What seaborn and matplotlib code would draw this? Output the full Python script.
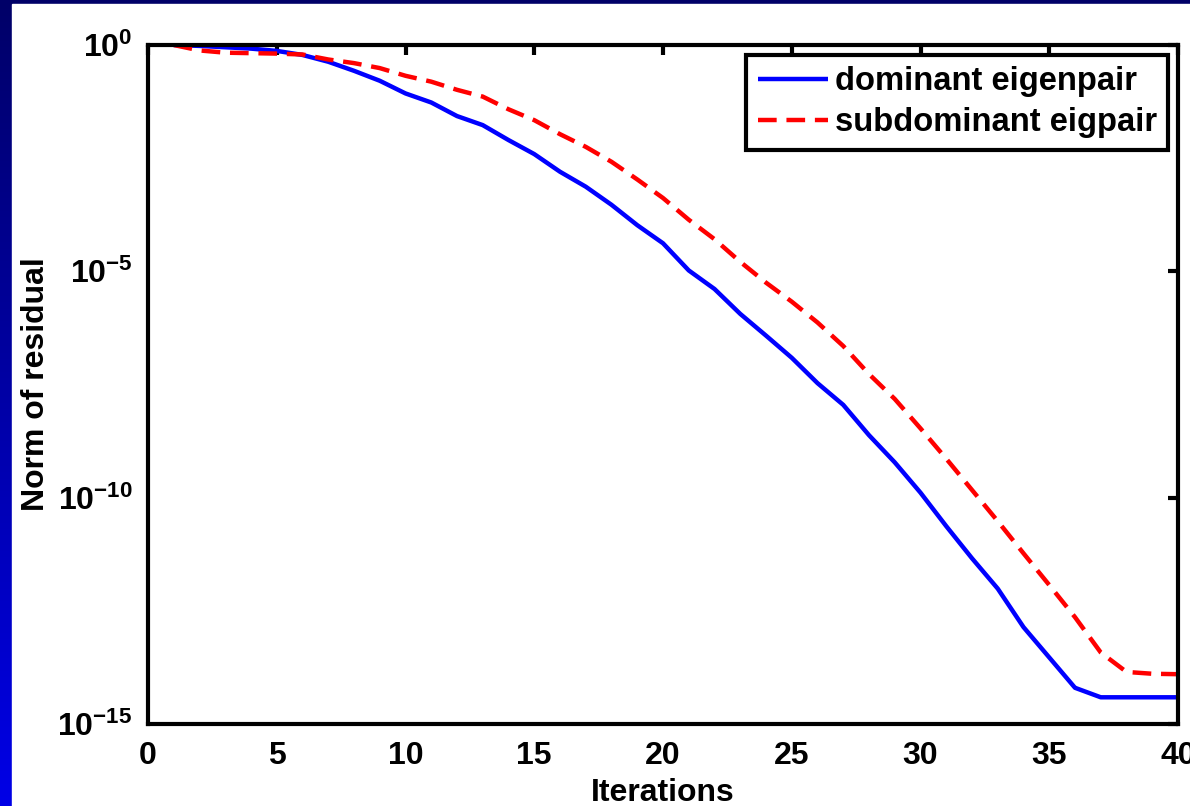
"""
Residual norm per iteration (log scale), dominant vs subdominant eigenpair
"""

import matplotlib
matplotlib.use("Agg")
import matplotlib.pyplot as plt
import numpy as np
import pandas as pd
import seaborn as sns

# values, as log10 of the residual norm
iterations = list(range(1, 41))
dominant_log10 = [0.0, -0.02, -0.05, -0.08, -0.13, -0.22, -0.37, -0.57, -0.79, -1.07,
                  -1.27, -1.57, -1.77, -2.10, -2.41, -2.80, -3.13, -3.53, -3.98, -4.38,
                  -4.98, -5.39, -5.94, -6.42, -6.91, -7.47, -7.95, -8.62, -9.22, -9.89,
                  -10.63, -11.34, -12.01, -12.86, -13.53, -14.20, -14.41, -14.41, -14.41, -14.41]
subdominant_log10 = [0.0, -0.12, -0.17, -0.18, -0.19, -0.21, -0.32, -0.40, -0.51, -0.68,
                     -0.81, -0.99, -1.14, -1.42, -1.66, -1.97, -2.25, -2.58, -2.97, -3.38,
                     -3.86, -4.29, -4.79, -5.25, -5.67, -6.13, -6.65, -7.27, -7.82, -8.47,
                     -9.14, -9.83, -10.52, -11.23, -11.93, -12.64, -13.42, -13.85, -13.89, -13.90]
series_names = ["dominant eigenpair", "subdominant eigpair"]
xticks = [0, 5, 10, 15, 20, 25, 30, 35, 40]
yticks = [1e0, 1e-5, 1e-10, 1e-15]
ytick_labels = [r"$\mathbf{10^{0}}$", r"$\mathbf{10^{-5}}$",
                r"$\mathbf{10^{-10}}$", r"$\mathbf{10^{-15}}$"]

sns.set_theme(style="white")
plt.rcParams["font.family"] = ["Liberation Sans", "DejaVu Sans"]
plt.rcParams["font.weight"] = "bold"
plt.rcParams["text.color"] = "black"
plt.rcParams["axes.labelcolor"] = "black"
plt.rcParams["mathtext.fontset"] = "custom"
plt.rcParams["mathtext.bf"] = "Liberation Sans:bold"
plt.rcParams["mathtext.rm"] = "Liberation Sans:bold"

data = pd.concat([
    pd.DataFrame({"Iterations": iterations,
                  "residual": 10.0 ** np.array(dominant_log10),
                  "series": series_names[0]}),
    pd.DataFrame({"Iterations": iterations,
                  "residual": 10.0 ** np.array(subdominant_log10),
                  "series": series_names[1]}),
])

W, H = 1190, 806
fig = plt.figure(figsize=(W / 100, H / 100), dpi=100)

# blue slide frame: gradient behind, white panel on top
bg = fig.add_axes([0, 0, 1, 1], zorder=-2)
grad = np.linspace(0, 1, 256).reshape(-1, 1)
bg.imshow(grad, aspect="auto", extent=[0, 1, 0, 1], origin="upper",
          cmap=matplotlib.colors.LinearSegmentedColormap.from_list("slide", ["#000068", "#0000e6"]))
bg.add_patch(plt.Rectangle((12 / W, 0), 1, 1 - 4 / H, color="white", zorder=2))
bg.set_xlim(0, 1)
bg.set_ylim(0, 1)
bg.axis("off")

ax = fig.add_axes([148 / W, 1 - 724 / H, (1178 - 148) / W, (724 - 45) / H])
sns.lineplot(data=data, x="Iterations", y="residual", hue="series", style="series",
             palette=["#0000ff", "#ff0000"], dashes=[(1, 0), (4.2, 2.2)],
             linewidth=3.2, ax=ax)

ax.set_yscale("log")
ax.set_xlim(0, 40)
ax.set_ylim(1e-15, 1e0)
ax.set_xticks(xticks)
ax.set_xticklabels([str(t) for t in xticks])
ax.set_yticks(yticks)
ax.set_yticklabels(ytick_labels)
ax.minorticks_off()

for side in ax.spines.values():
    side.set_linewidth(3)
    side.set_color("black")
ax.tick_params(direction="in", length=7, width=3, top=True, right=True,
               labelsize=23, colors="black")
ax.tick_params(axis="x", pad=12)
ax.tick_params(axis="y", pad=11)

ax.set_xlabel("Iterations", fontsize=23, fontweight="bold", labelpad=5, color="black")
ax.set_ylabel("Norm of residual", fontsize=23, fontweight="bold", labelpad=5, color="black")

leg = ax.legend(loc="upper right", fontsize=23.6, frameon=True, fancybox=False,
                framealpha=1, handlelength=2.15, handletextpad=0.2, borderpad=0.35,
                labelspacing=0.3, borderaxespad=0.3)
leg.get_frame().set_edgecolor("black")
leg.get_frame().set_linewidth(3)
for line in leg.get_lines():
    line.set_linewidth(3.2)
for txt in leg.get_texts():
    txt.set_fontweight("bold")
    txt.set_color("black")

fig.savefig("out.png", dpi=100)
